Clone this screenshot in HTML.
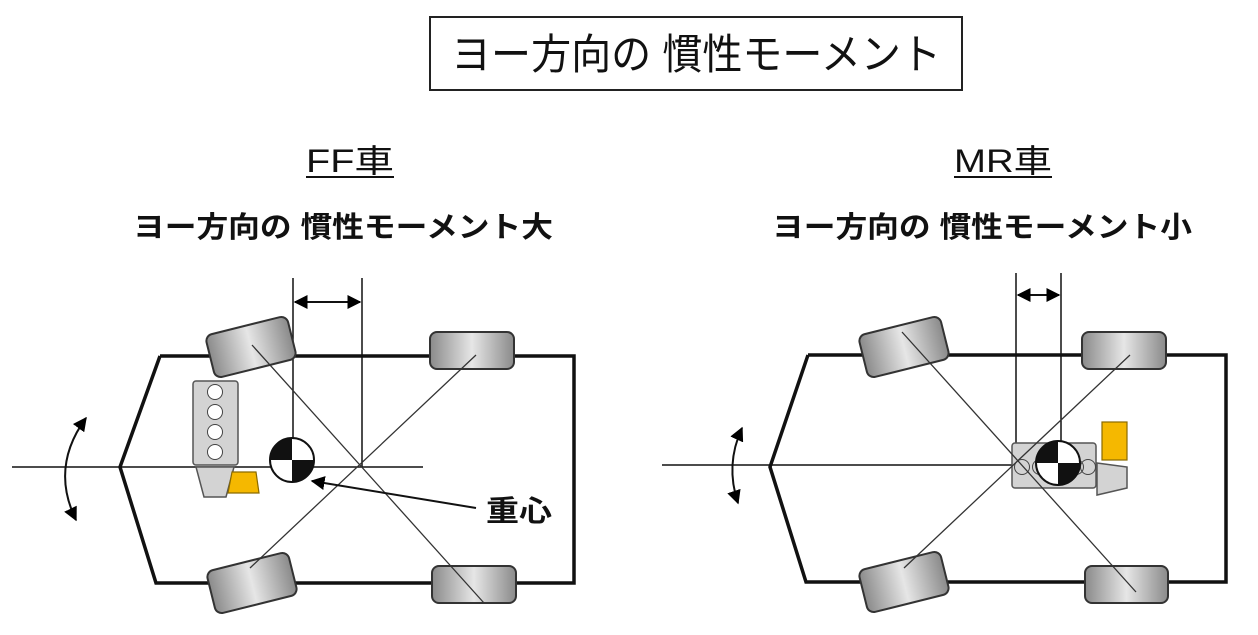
<!DOCTYPE html>
<html><head><meta charset="utf-8"><style>
html,body{margin:0;padding:0;background:#fff;}
svg{display:block;}
text{font-family:"Liberation Sans","Noto Sans CJK JP",sans-serif;fill:#111;}
</style></head><body>
<svg width="1258" height="635" viewBox="0 0 1258 635" xmlns="http://www.w3.org/2000/svg">
<defs>
<linearGradient id="tg" x1="0" y1="0" x2="1" y2="0">
<stop offset="0" stop-color="#8a8a8a"/><stop offset="0.5" stop-color="#e6e6e6"/><stop offset="1" stop-color="#8a8a8a"/>
</linearGradient>
<marker id="ah" viewBox="0 0 10 10" refX="9" refY="5" markerWidth="7" markerHeight="7" markerUnits="strokeWidth" orient="auto-start-reverse"><path d="M0,0 L10,5 L0,10 z" fill="#000"/></marker>
</defs>

<rect x="430" y="17" width="532" height="73" fill="#fff" stroke="#222" stroke-width="2"/>
<text x="696" y="69" font-size="42" text-anchor="middle" textLength="490" lengthAdjust="spacingAndGlyphs">ヨー方向の 慣性モーメント</text>

<text x="350" y="172" font-size="32" text-anchor="middle" textLength="88" lengthAdjust="spacingAndGlyphs">FF車</text>
<line x1="306" y1="177" x2="394" y2="177" stroke="#111" stroke-width="2"/>
<text x="1003" y="172" font-size="32" text-anchor="middle" textLength="98" lengthAdjust="spacingAndGlyphs">MR車</text>
<line x1="954" y1="177" x2="1052" y2="177" stroke="#111" stroke-width="2"/>

<text x="343" y="237" font-size="29" font-weight="bold" text-anchor="middle" textLength="420" lengthAdjust="spacingAndGlyphs">ヨー方向の 慣性モーメント大</text>
<text x="982" y="237" font-size="29" font-weight="bold" text-anchor="middle" textLength="420" lengthAdjust="spacingAndGlyphs">ヨー方向の 慣性モーメント小</text>

<!-- LEFT CAR -->
<g>
<polyline points="160,356 574,356 574,583 156,583 120,467 160,356" fill="none" stroke="#111" stroke-width="3.5"/>
<line x1="12" y1="467" x2="423" y2="467" stroke="#111" stroke-width="1.5"/>
<line x1="293" y1="278" x2="293" y2="467" stroke="#111" stroke-width="1.5"/>
<line x1="362" y1="278" x2="362" y2="467" stroke="#111" stroke-width="1.5"/>
<line x1="295" y1="302" x2="360" y2="302" stroke="#111" stroke-width="2" marker-start="url(#ah)" marker-end="url(#ah)"/>
<rect x="209" y="325" width="84" height="44" rx="7" fill="url(#tg)" stroke="#333" stroke-width="2" transform="rotate(-14 251 347)"/>
<rect x="430" y="332" width="84" height="37" rx="7" fill="url(#tg)" stroke="#333" stroke-width="2"/>
<rect x="210" y="561" width="84" height="44" rx="7" fill="url(#tg)" stroke="#333" stroke-width="2" transform="rotate(-14 252 583)"/>
<rect x="432" y="566" width="84" height="37" rx="7" fill="url(#tg)" stroke="#333" stroke-width="2"/>
<line x1="252" y1="345" x2="484" y2="603" stroke="#333" stroke-width="1.3"/>
<line x1="476" y1="355" x2="250" y2="568" stroke="#333" stroke-width="1.3"/>
<rect x="193" y="381" width="45" height="84" rx="3" fill="#d3d3d3" stroke="#555" stroke-width="1.5"/>
<circle cx="215" cy="392" r="7.5" fill="#fff" stroke="#444"/>
<circle cx="215" cy="412" r="7.5" fill="#fff" stroke="#444"/>
<circle cx="215" cy="432" r="7.5" fill="#fff" stroke="#444"/>
<circle cx="215" cy="452" r="7.5" fill="#fff" stroke="#444"/>
<polygon points="196,467 234,467 226,497 204,497" fill="#d3d3d3" stroke="#555" stroke-width="1.5"/>
<polygon points="232,472 256,472 259,493 228,493" fill="#f5b800" stroke="#8a6a00" stroke-width="1.2"/>
<g transform="translate(292,460)">
<circle r="22" fill="#fff" stroke="#111" stroke-width="2"/>
<path d="M0,0 L-22,0 A22,22 0 0 1 0,-22 Z" fill="#111"/>
<path d="M0,0 L22,0 A22,22 0 0 1 0,22 Z" fill="#111"/>
</g>
<line x1="476" y1="508" x2="312" y2="481" stroke="#111" stroke-width="2" marker-end="url(#ah)"/>
<text x="486" y="521" font-size="29" font-weight="bold" textLength="66" lengthAdjust="spacingAndGlyphs">重心</text>
<path d="M86,418 Q50,467 76,520" fill="none" stroke="#111" stroke-width="2" marker-start="url(#ah)" marker-end="url(#ah)"/>
</g>

<!-- RIGHT CAR -->
<g>
<polyline points="808,355 1226,355 1226,582 806,582 770,467 808,355" fill="none" stroke="#111" stroke-width="3.5"/>
<line x1="662" y1="465" x2="1012" y2="465" stroke="#111" stroke-width="1.5"/>
<line x1="1016" y1="273" x2="1016" y2="470" stroke="#111" stroke-width="1.5"/>
<line x1="1061" y1="273" x2="1061" y2="470" stroke="#111" stroke-width="1.5"/>
<line x1="1018" y1="295" x2="1059" y2="295" stroke="#111" stroke-width="2" marker-start="url(#ah)" marker-end="url(#ah)"/>
<rect x="862" y="325" width="84" height="44" rx="7" fill="url(#tg)" stroke="#333" stroke-width="2" transform="rotate(-14 904 347)"/>
<rect x="1082" y="332" width="84" height="37" rx="7" fill="url(#tg)" stroke="#333" stroke-width="2"/>
<rect x="862" y="560" width="84" height="44" rx="7" fill="url(#tg)" stroke="#333" stroke-width="2" transform="rotate(-14 904 582)"/>
<rect x="1085" y="566" width="83" height="37" rx="7" fill="url(#tg)" stroke="#333" stroke-width="2"/>
<rect x="1012" y="443" width="84" height="45" rx="3" fill="#d3d3d3" stroke="#555" stroke-width="1.5"/>
<circle cx="1022" cy="467" r="7.5" fill="none" stroke="#444"/>
<circle cx="1040" cy="467" r="7.5" fill="none" stroke="#444"/>
<circle cx="1076" cy="467" r="7.5" fill="none" stroke="#444"/>
<circle cx="1088" cy="467" r="7.5" fill="none" stroke="#444"/>
<polygon points="1097,463 1127,467 1127,488 1097,495" fill="#d3d3d3" stroke="#555" stroke-width="1.5"/>
<rect x="1102" y="422" width="25" height="38" fill="#f5b800" stroke="#8a6a00" stroke-width="1.2"/>
<g transform="translate(1058,463)">
<circle r="22" fill="#fff" stroke="#111" stroke-width="2"/>
<path d="M0,0 L-22,0 A22,22 0 0 1 0,-22 Z" fill="#111"/>
<path d="M0,0 L22,0 A22,22 0 0 1 0,22 Z" fill="#111"/>
</g>
<line x1="902" y1="332" x2="1136" y2="592" stroke="#333" stroke-width="1.3"/>
<line x1="1130" y1="355" x2="904" y2="568" stroke="#333" stroke-width="1.3"/>
<path d="M742,428 Q725,465 738,503" fill="none" stroke="#111" stroke-width="2" marker-start="url(#ah)" marker-end="url(#ah)"/>
</g>
</svg>
</body></html>
